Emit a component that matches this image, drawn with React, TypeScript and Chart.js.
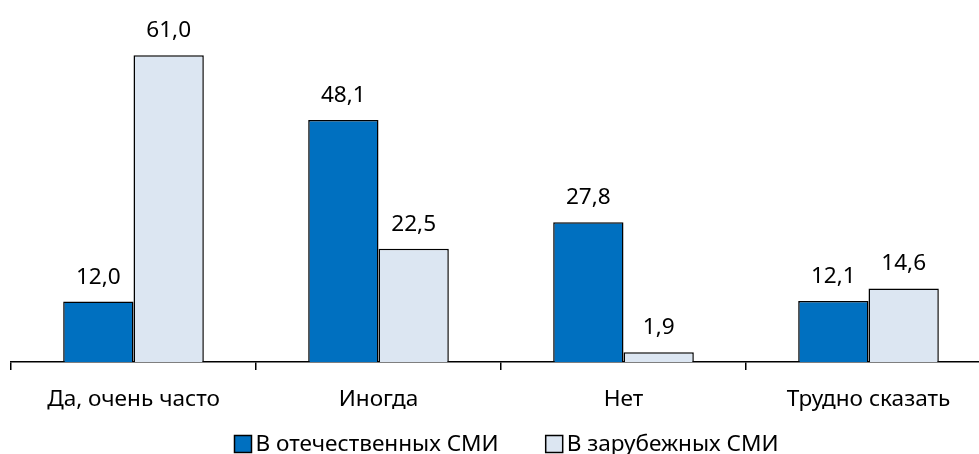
import React, { useEffect, useRef } from "react";
import { Chart, registerables } from "chart.js";

Chart.register(...registerables);

const categories = ["Да, очень часто", "Иногда", "Нет", "Трудно сказать"];
const seriesNames = ["В отечественных СМИ", "В зарубежных СМИ"];
const domestic = [12.0, 48.1, 27.8, 12.1];
const foreign = [61.0, 22.5, 1.9, 14.6];
const colors = ["#0070C0", "#DCE6F2"];

const FONT = "'Noto Sans', 'Open Sans', sans-serif";
const FONT_SIZE = 22.6;

const valueLabels = {
  id: "valueLabels",
  afterDatasetsDraw(chart: any) {
    const ctx = chart.ctx;
    ctx.save();
    ctx.fillStyle = "#000";
    ctx.font = `${FONT_SIZE}px ${FONT}`;
    ctx.textAlign = "center";
    ctx.textBaseline = "alphabetic";
    chart.data.datasets.forEach((ds: any, i: number) => {
      const meta = chart.getDatasetMeta(i);
      meta.data.forEach((bar: any, j: number) => {
        const v = ds.data[j] as number;
        ctx.fillText(v.toFixed(1).replace(".", ","), bar.x, bar.y - 18);
      });
    });
    ctx.restore();
  },
};

const customLegend = {
  id: "customLegend",
  afterDraw(chart: any) {
    const ctx = chart.ctx;
    const box = 17;
    const textGap = 4;
    const itemGap = 47;
    const y = 444;
    ctx.save();
    ctx.font = `${FONT_SIZE}px ${FONT}`;
    ctx.textBaseline = "middle";
    ctx.textAlign = "left";
    const items = chart.data.datasets.map((ds: any) => ({
      label: ds.label as string,
      color: ds.backgroundColor as string,
      w: ctx.measureText(ds.label).width,
    }));
    const total = items.reduce((s: number, it: any) => s + box + textGap + it.w, 0) + itemGap * (items.length - 1);
    const center = chart.width / 2 + 11;
    let x = center - total / 2;
    items.forEach((it: any) => {
      ctx.fillStyle = it.color;
      ctx.fillRect(x, y - box / 2, box, box);
      ctx.strokeStyle = "#000";
      ctx.lineWidth = 1.5;
      ctx.strokeRect(x, y - box / 2, box, box);
      ctx.fillStyle = "#000";
      ctx.fillText(it.label, x + box + textGap, y + 1);
      x += box + textGap + it.w + itemGap;
    });
    ctx.restore();
  },
};

export default function App() {
  const ref = useRef<HTMLCanvasElement>(null);
  useEffect(() => {
    if (!ref.current) return;
    const chart = new Chart(ref.current, {
      type: "bar",
      data: {
        labels: categories,
        datasets: [
          { label: seriesNames[0], data: domestic, backgroundColor: colors[0], borderColor: "#000", borderWidth: 1.5 },
          { label: seriesNames[1], data: foreign, backgroundColor: colors[1], borderColor: "#000", borderWidth: 1.5 },
        ],
      },
      options: {
        animation: false,
        responsive: true,
        maintainAspectRatio: false,
        layout: { padding: { left: 11, right: 0, top: 10, bottom: 25 } },
        datasets: { bar: { categoryPercentage: 0.574, barPercentage: 1 } },
        scales: {
          x: {
            grid: { drawOnChartArea: false, drawTicks: true, tickLength: 8, color: "#000", lineWidth: 1.5, offset: true },
            border: { display: true, color: "#000", width: 1.5 },
            ticks: { color: "#000", font: { family: FONT, size: FONT_SIZE }, padding: 16 },
          },
          y: { display: false, min: 0, max: 70 },
        },
        plugins: {
          legend: { display: false },
          tooltip: { enabled: false },
        },
      },
      plugins: [valueLabels, customLegend],
    });
    return () => chart.destroy();
  }, []);
  return (
    <div style={{ position: "fixed", left: 0, top: 0, width: 991, height: 454 }}>
      <canvas ref={ref} />
    </div>
  );
}
